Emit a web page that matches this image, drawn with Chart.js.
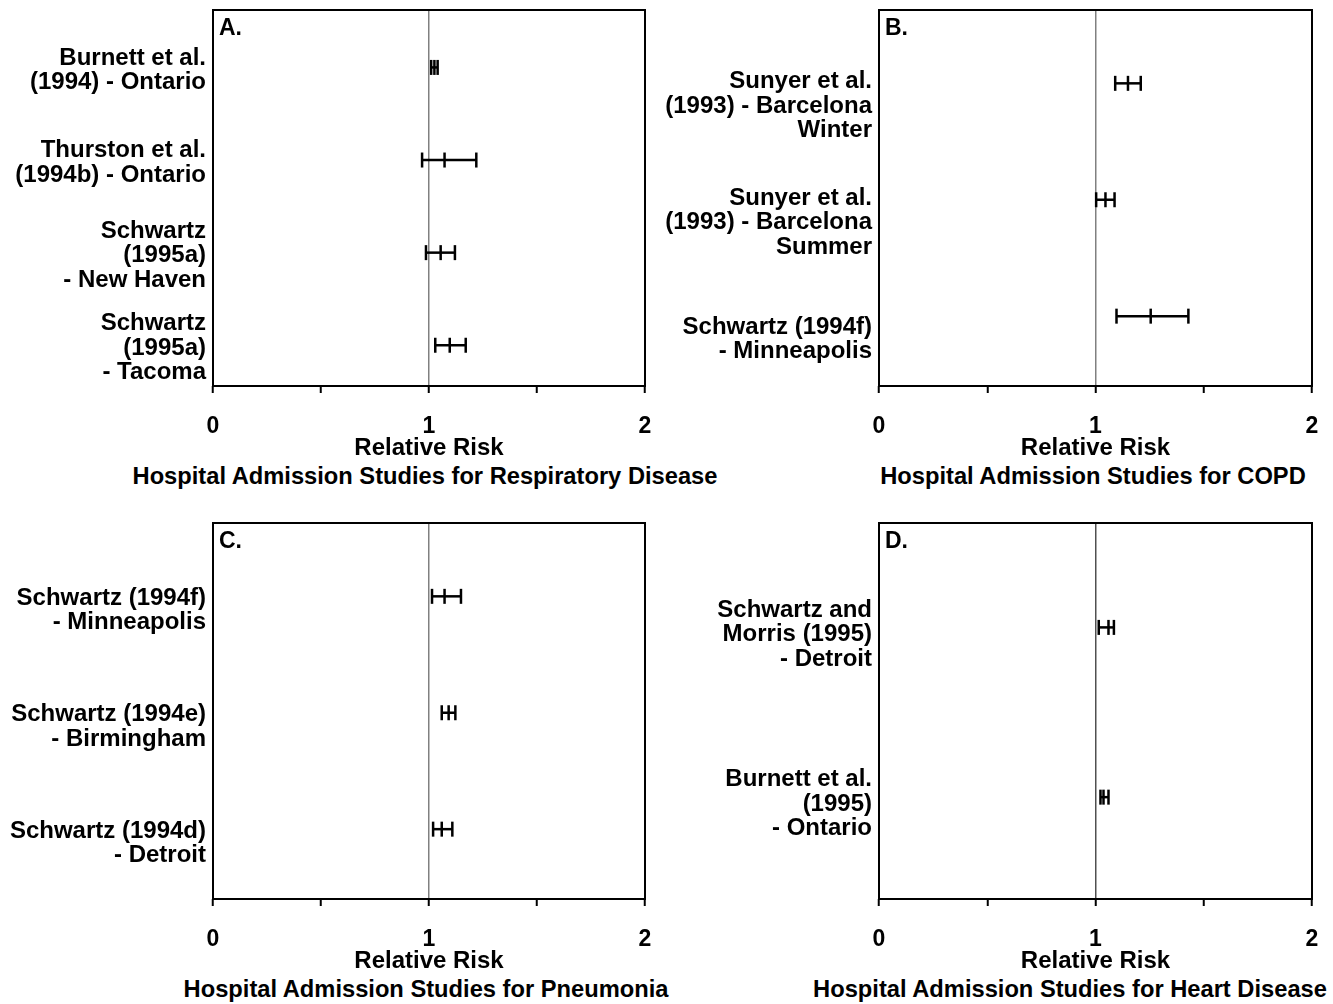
<!DOCTYPE html>
<html>
<head>
<meta charset="utf-8">
<script src="https://cdn.jsdelivr.net/npm/chart.js@4.4.1/dist/chart.umd.min.js"></script>
<style>
  body { margin: 0; background: #fff; width: 1333px; height: 1004px; position: relative; overflow: hidden; }
  canvas { position: absolute; }
  .caption {
    position: absolute; width: 800px; text-align: center;
    font: bold 23.7px "Liberation Sans", Arial, sans-serif; line-height: 29px; color: #000;
    white-space: nowrap;
  }
</style>
</head>
<body>
<canvas id="chart-resp" width="666" height="462" style="left:0;top:0"></canvas>
<canvas id="chart-copd" width="667" height="462" style="left:666px;top:0"></canvas>
<canvas id="chart-pneu" width="666" height="462" style="left:0;top:513px"></canvas>
<canvas id="chart-heart" width="667" height="462" style="left:666px;top:513px"></canvas>
<div class="caption" style="left:25px;top:462px">Hospital Admission Studies for Respiratory Disease</div>
<div class="caption" style="left:693px;top:462px">Hospital Admission Studies for COPD</div>
<div class="caption" style="left:26px;top:975px">Hospital Admission Studies for Pneumonia</div>
<div class="caption" style="left:670px;top:975px">Hospital Admission Studies for Heart Disease</div>
<script>
// A. respiratory disease
const respStudies = [
  ["Burnett et al.", "(1994) - Ontario"],
  ["Thurston et al.", "(1994b) - Ontario"],
  ["Schwartz", "(1995a)", "- New Haven"],
  ["Schwartz", "(1995a)", "- Tacoma"],
];
const respLow = [1.01, 0.968, 0.986, 1.029];
const respRR = [1.025, 1.072, 1.054, 1.096];
const respHigh = [1.04, 1.219, 1.12, 1.17];

// B. COPD
const copdStudies = [
  ["Sunyer et al.", "(1993) - Barcelona", "Winter"],
  ["Sunyer et al.", "(1993) - Barcelona", "Summer"],
  ["Schwartz (1994f)", "- Minneapolis"],
];
const copdLow = [1.091, 1.003, 1.097];
const copdRR = [1.15, 1.046, 1.255];
const copdHigh = [1.209, 1.088, 1.429];

// C. pneumonia
const pneuStudies = [
  ["Schwartz (1994f)", "- Minneapolis"],
  ["Schwartz (1994e)", "- Birmingham"],
  ["Schwartz (1994d)", "- Detroit"],
];
const pneuLow = [1.014, 1.059, 1.019];
const pneuRR = [1.072, 1.091, 1.059];
const pneuHigh = [1.148, 1.122, 1.108];

// D. heart disease
const heartStudies = [
  ["Schwartz and", "Morris (1995)", "- Detroit"],
  ["Burnett et al.", "(1995)", "- Ontario"],
];
const heartLow = [1.015, 1.023];
const heartRR = [1.06, 1.037];
const heartHigh = [1.085, 1.06];

const riskTicks = [0, 0.5, 1, 1.5, 2];

const FONT = '"Liberation Sans", Arial, sans-serif';

// box around the plot area plus the panel letter
const framePlugin = {
  id: "frame",
  afterDraw(chart, args, opts) {
    const { ctx, chartArea: a } = chart;
    ctx.save();
    ctx.strokeStyle = "#000";
    ctx.lineWidth = 2;
    ctx.strokeRect(a.left, a.top, a.right - a.left, a.bottom - a.top);
    ctx.fillStyle = "#000";
    ctx.font = "bold 23px " + FONT;
    ctx.textBaseline = "middle";
    ctx.fillText(opts.letter, a.left + 6, a.top + 19);
    ctx.restore();
  },
};

function makePanel(id, letter, studies, low, rr, high, yMin, yMax, labelShift, refColor) {
  const datasets = studies.map((_, i) => ({
    data: [
      { x: low[i], y: i + 1 },
      { x: rr[i], y: i + 1 },
      { x: high[i], y: i + 1 },
    ],
    showLine: true,
    borderColor: "#000",
    borderWidth: 2.5,
    pointStyle: "line",
    rotation: 90,
    pointRadius: 7.5,
    pointBorderWidth: 2.5,
    pointBorderColor: "#000",
  }));

  return new Chart(document.getElementById(id), {
    type: "scatter",
    data: { datasets },
    options: {
      responsive: false,
      animation: false,
      events: [],
      layout: { padding: { top: 8, right: 21, left: 0, bottom: 0 } },
      plugins: { legend: { display: false }, tooltip: { enabled: false }, frame: { letter } },
      scales: {
        x: {
          type: "linear",
          min: 0,
          max: 2,
          afterBuildTicks: (scale) => { scale.ticks = riskTicks.map((v) => ({ value: v })); },
          afterFit: (scale) => {
            scale.height = 462 - 386;
            scale.paddingLeft = 0;
            scale.paddingRight = 0;
          },
          ticks: {
            autoSkip: false,
            maxRotation: 0,
            padding: 20,
            color: "#000",
            font: { family: FONT, size: 23, weight: "bold" },
            callback: (v) => (Number.isInteger(v) ? String(v) : ""),
          },
          grid: {
            color: (c) => (c.tick && c.tick.value === 1 ? refColor : "rgba(0,0,0,0)"),
            lineWidth: 1.5,
            drawTicks: true,
            tickLength: 7,
            tickColor: "#000",
            tickWidth: 2,
          },
          border: { display: false },
          title: {
            display: true,
            text: "Relative Risk",
            color: "#000",
            font: { family: FONT, size: 24, weight: "bold", lineHeight: 1 },
            padding: { top: 0, bottom: 2 },
          },
        },
        y: {
          type: "linear",
          reverse: true,
          min: yMin,
          max: yMax,
          afterBuildTicks: (scale) => { scale.ticks = studies.map((_, i) => ({ value: i + 1 })); },
          afterFit: (scale) => {
            scale.width = 213;
            scale.paddingTop = 0;
            scale.paddingBottom = 0;
          },
          ticks: {
            autoSkip: false,
            padding: 7,
            labelOffset: labelShift,
            color: "#000",
            font: { family: FONT, size: 24, weight: "bold", lineHeight: "24.5px" },
            callback: (v) => studies[v - 1],
          },
          grid: { display: false, drawTicks: false },
          border: { display: false },
        },
      },
    },
    plugins: [framePlugin],
  });
}

makePanel("chart-resp", "A.", respStudies, respLow, respRR, respHigh, 0.38, 4.44, 3, "#808080");
makePanel("chart-copd", "B.", copdStudies, copdLow, copdRR, copdHigh, 0.37, 3.6, 23, "#808080");
makePanel("chart-pneu", "C.", pneuStudies, pneuLow, pneuRR, pneuHigh, 0.37, 3.6, 14, "#808080");
makePanel("chart-heart", "D.", heartStudies, heartLow, heartRR, heartHigh, 0.385, 2.6, 7, "#505050");
</script>
</body>
</html>
